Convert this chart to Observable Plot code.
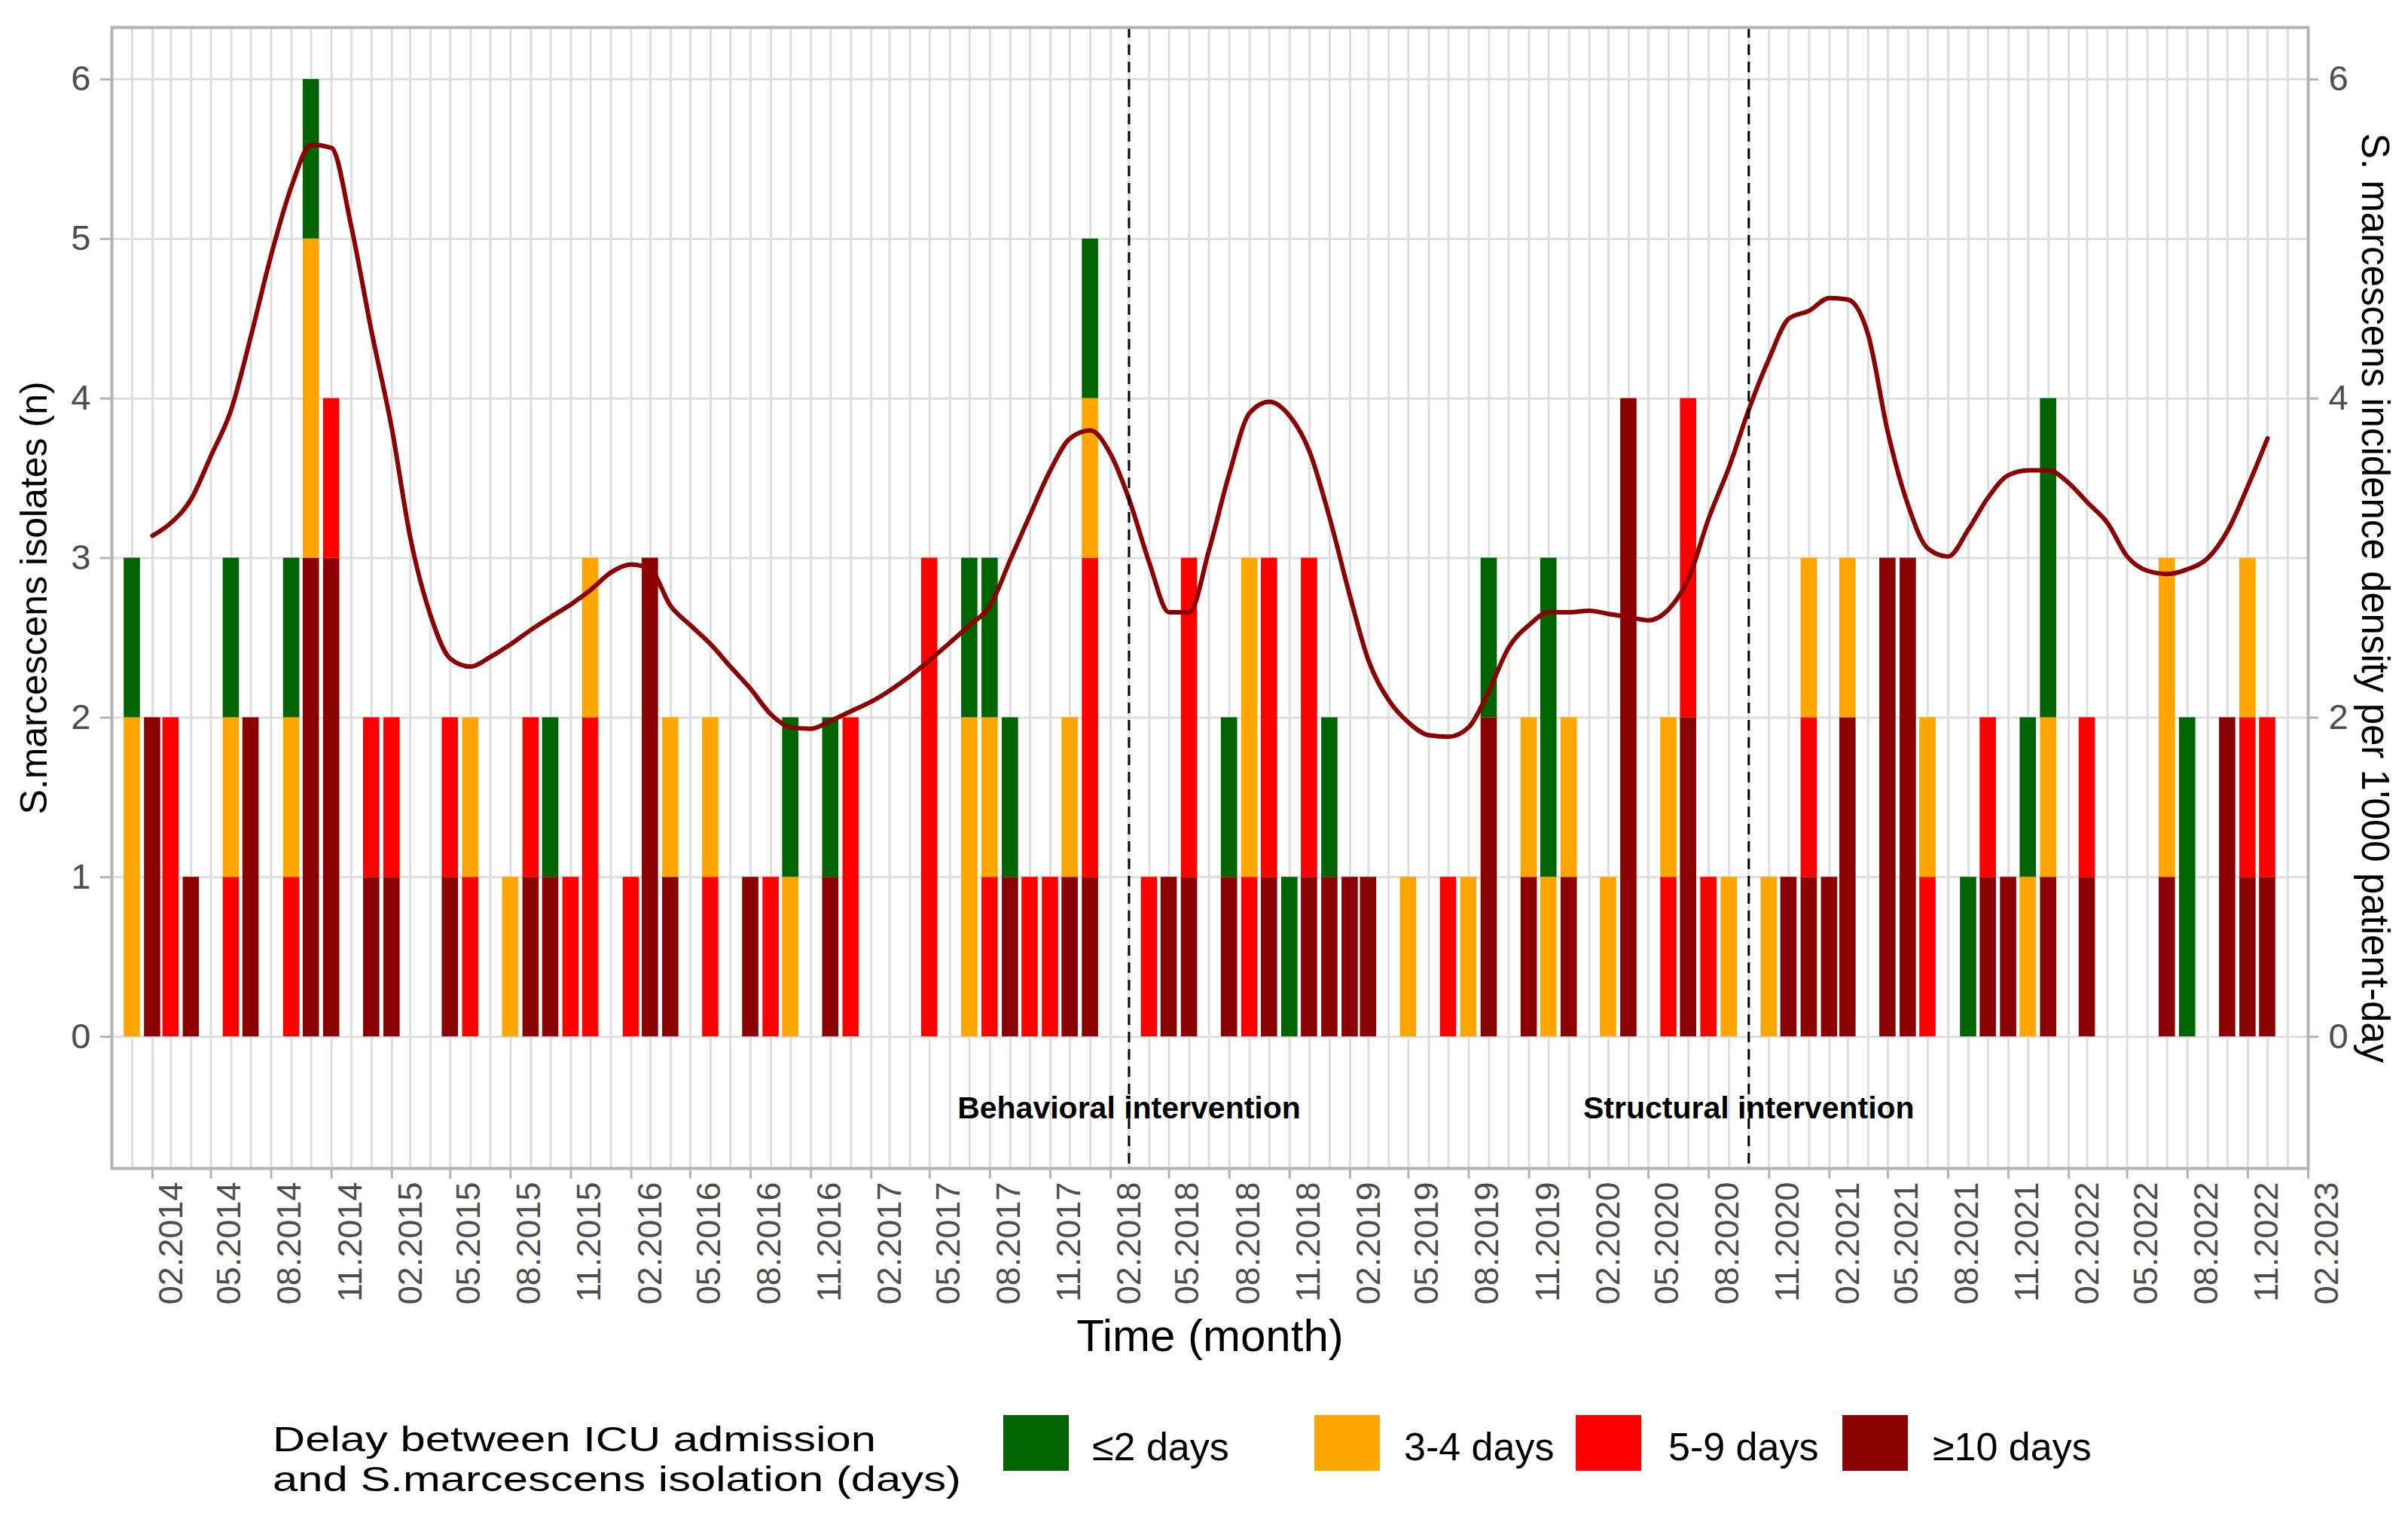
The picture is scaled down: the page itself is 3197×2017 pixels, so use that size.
<!DOCTYPE html>
<html>
<head>
<meta charset="utf-8">
<script src="https://cdn.jsdelivr.net/npm/d3@7"></script>
<script src="https://cdn.jsdelivr.net/npm/@observablehq/plot@0.6"></script>
<style>
html, body { margin: 0; padding: 0; background: #fff; overflow: hidden; }
#wrap { width: 3197px; height: 2017px; font-family: "Liberation Sans", Arial, sans-serif; }
#legend { position: relative; width: 3197px; height: 187px; }
.lg { position: absolute; white-space: nowrap; color: #000; }
.key { position: absolute; width: 87px; height: 74px; }
</style>
</head>
<body>
<div id="wrap"><div id="chart"></div><div id="legend"></div></div>
<script>
// ---- data (monthly, 01.2014 ... 12.2022; one row per year) ----
const categories = ["≤2 days", "3-4 days", "5-9 days", "≥10 days"];
const legendTitle = ["Delay between ICU admission", "and S.marcescens isolation (days)"];

const le2 = [
  1,0,0,0,0,1,0,0,1,1,0,0,
  0,0,0,0,0,0,0,0,0,1,0,0,
  0,0,0,0,0,0,0,0,0,1,0,1,
  0,0,0,0,0,0,1,1,1,0,0,0,
  1,0,0,0,0,0,0,1,0,0,1,0,
  1,0,0,0,0,0,0,0,1,0,0,2,
  0,0,0,0,0,0,0,0,0,0,0,0,
  0,0,0,0,0,0,0,0,1,0,0,1,
  2,0,0,0,0,0,0,2,0,0,0,0
];
const d34 = [
  2,0,0,0,0,1,0,0,1,2,0,0,
  0,0,0,0,0,1,0,1,0,0,0,1,
  0,0,0,1,0,1,0,0,0,1,0,0,
  0,0,0,0,0,0,2,1,0,0,0,1,
  1,0,0,0,0,0,0,0,2,0,0,0,
  0,0,0,0,1,0,0,1,0,0,1,1,
  1,0,1,0,0,1,0,0,1,0,1,0,
  1,0,1,0,0,0,1,0,0,0,0,1,
  1,0,0,0,0,0,2,0,0,0,1,0
];
const d59 = [
  0,0,2,0,0,1,0,0,1,0,1,0,
  1,1,0,0,1,1,0,0,1,0,1,2,
  0,1,0,0,0,1,0,0,1,0,0,0,
  2,0,0,0,3,0,0,1,0,1,1,0,
  2,0,0,1,0,2,0,0,1,2,0,2,
  0,0,0,0,0,0,1,0,0,0,0,0,
  0,0,0,0,0,1,2,1,0,0,0,0,
  1,0,0,0,0,0,1,0,0,1,0,0,
  0,0,1,0,0,0,0,0,0,0,1,1
];
const ge10 = [
  0,2,0,1,0,0,2,0,0,3,3,0,
  1,1,0,0,1,0,0,0,1,1,0,0,
  0,0,3,1,0,0,0,1,0,0,0,1,
  0,0,0,0,0,0,0,0,1,0,0,1,
  1,0,0,0,1,1,0,1,0,1,0,1,
  1,1,1,0,0,0,0,0,2,0,1,0,
  1,0,0,4,0,0,2,0,0,0,0,1,
  1,1,2,0,3,3,0,0,0,1,1,0,
  1,0,1,0,0,0,1,0,0,2,1,1
];
// incidence density per 1'000 patient-days (no value for 01.2014)
const density = [
  null,3.14,3.22,3.37,3.64,3.93,4.39,4.90,5.33,5.59,5.57,5.08,
  4.42,3.81,3.13,2.64,2.37,2.32,2.38,2.46,2.55,2.63,2.71,2.80,
  2.91,2.96,2.93,2.70,2.58,2.46,2.32,2.18,2.02,1.94,1.93,1.98,
  2.04,2.10,2.17,2.26,2.36,2.47,2.58,2.70,2.99,3.27,3.55,3.75,
  3.80,3.65,3.37,2.97,2.66,2.66,3.05,3.53,3.91,3.98,3.89,3.67,
  3.25,2.76,2.36,2.11,1.97,1.89,1.88,1.94,2.17,2.44,2.58,2.66,
  2.66,2.67,2.65,2.63,2.61,2.68,2.87,3.25,3.57,3.93,4.25,4.50,
  4.55,4.63,4.62,4.40,3.79,3.33,3.06,3.01,3.18,3.38,3.52,3.55,
  3.55,3.47,3.35,3.22,3.01,2.92,2.90,2.93,3.00,3.17,3.45,3.75
];
const xTicks = [
  "02.2014","05.2014","08.2014","11.2014",
  "02.2015","05.2015","08.2015","11.2015",
  "02.2016","05.2016","08.2016","11.2016",
  "02.2017","05.2017","08.2017","11.2017",
  "02.2018","05.2018","08.2018","11.2018",
  "02.2019","05.2019","08.2019","11.2019",
  "02.2020","05.2020","08.2020","11.2020",
  "02.2021","05.2021","08.2021","11.2021",
  "02.2022","05.2022","08.2022","11.2022",
  "02.2023"
];
const yTicksLeft = [0, 1, 2, 3, 4, 5, 6];
const yTicksRight = [0, 2, 4, 6];
const interventionDates = ["2018-03-01", "2020-10-01"];
const interventionLabels = ["Behavioral intervention", "Structural intervention"];
const interventionY = [-0.45, -0.45];

// ---- styles ----
const palette = ["#006400", "#FFA500", "#FF0000", "#8B0000"];
const FONT = "'Liberation Sans', Arial, sans-serif";

// ---- build tables ----
const months = d3.range(le2.length).map(i => new Date(Date.UTC(2014, i, 1)));
const seriesBottomUp = [["≥10 days", ge10], ["5-9 days", d59], ["3-4 days", d34], ["≤2 days", le2]];
const table = [];
months.forEach((m, i) => {
  seriesBottomUp.forEach(([cat, arr]) => { if (arr[i] > 0) table.push({date: m, cat, n: arr[i]}); });
});
const lineTable = months.map((m, i) => ({date: m, v: density[i]})).filter(d => d.v != null);
const parseTick = s => new Date(Date.UTC(+s.slice(3), +s.slice(0, 2) - 1, 1));
const xTickDates = xTicks.map(parseTick);
const tickLabel = new Map(xTickDates.map((d, i) => [+d, xTicks[i]]));
const gridMonths = d3.utcMonth.range(new Date(Date.UTC(2014, 0, 1)), new Date(Date.UTC(2023, 1, 2)));
const interventions = interventionDates.map((d, i) => ({date: new Date(d + "T00:00:00Z"), label: interventionLabels[i], y: interventionY[i]}));
const halfBar = 12.4 * 864e5;

const chart = Plot.plot({
  width: 3197,
  height: 1830,
  marginLeft: 148,
  marginRight: 133,
  marginTop: 36,
  marginBottom: 279,
  style: {fontFamily: FONT, background: "#fff", color: "#000", overflow: "visible"},
  x: {type: "utc", domain: [new Date(Date.UTC(2013, 11, 1)), new Date(Date.UTC(2023, 1, 1))]},
  y: {domain: [-0.825, 6.325]},
  color: {domain: categories, range: palette},
  marks: [
    Plot.ruleX(gridMonths, {stroke: "#DEDEDE", strokeWidth: 3}),
    Plot.ruleY(yTicksLeft, {stroke: "#DEDEDE", strokeWidth: 3}),
    Plot.rectY(table, {
      x1: d => new Date(+d.date - halfBar),
      x2: d => new Date(+d.date + halfBar),
      y: "n",
      fill: "cat"
    }),
    Plot.line(lineTable, {x: "date", y: "v", stroke: "#8B0000", strokeWidth: 6, curve: "monotone-x"}),
    Plot.ruleX(interventions, {x: "date", stroke: "#000", strokeWidth: 3, strokeDasharray: "14,9"}),
    Plot.text(interventions, {x: "date", y: "y", text: "label", fontWeight: "bold", fontSize: 41, fill: "#000"}),
    Plot.frame({stroke: "#B3B3B3", strokeWidth: 4}),
    // x axis ticks and labels
    Plot.axisX({ticks: xTickDates, tickFormat: () => "", tickSize: 14, stroke: "#B3B3B3", strokeWidth: 3, label: null}),
    Plot.axisX({ticks: xTickDates, tickFormat: d => tickLabel.get(+d), tickSize: 0, tickPadding: 18,
      tickRotate: -90, textAnchor: "end", fontSize: 45, fill: "#4D4D4D", dx: 25, label: null}),
    // y axes
    Plot.axisY({ticks: yTicksLeft, tickSize: 15, tickPadding: 13, fontSize: 47, stroke: "#B3B3B3", strokeWidth: 3, fill: "#4D4D4D", label: null}),
    Plot.axisY({anchor: "right", ticks: yTicksRight, tickSize: 13, tickPadding: 14, fontSize: 47, stroke: "#B3B3B3", strokeWidth: 3, fill: "#4D4D4D", label: null}),
    // axis titles
    Plot.text(["Time (month)"], {text: d => d, frameAnchor: "bottom", textAnchor: "middle", lineAnchor: "middle", dy: 223, fontSize: 60, fill: "#000"}),
    Plot.text(["S.marcescens isolates (n)"], {text: d => d, frameAnchor: "left", textAnchor: "middle", lineAnchor: "middle", rotate: -90, dx: -103, fontSize: 50, fill: "#000"}),
    Plot.text(["S. marcescens incidence density per 1'000 patient-day"], {text: d => d, frameAnchor: "right", textAnchor: "middle", lineAnchor: "middle", rotate: 90, dx: 88, fontSize: 51, fill: "#000"})
  ]
});
document.getElementById("chart").appendChild(chart);

// ---- legend (HTML, below the SVG) ----
const legend = document.getElementById("legend");
const top0 = 1830;
function addDiv(cls, style, lines) {
  const el = document.createElement("div");
  el.className = cls;
  Object.assign(el.style, style);
  if (lines != null) {
    [].concat(lines).forEach((t, i) => {
      if (i > 0) el.appendChild(document.createElement("br"));
      el.appendChild(document.createTextNode(t));
    });
  }
  legend.appendChild(el);
}
addDiv("lg", {left: "362px", top: (1911 - top0 - 26.5) + "px", fontSize: "46px", lineHeight: "53px",
  transform: "scaleX(1.3)", transformOrigin: "left top"}, legendTitle);
const keyLeft = [1332, 1745, 2092, 2446];
const labelLeft = [1450, 1864, 2215, 2566];
categories.forEach((c, i) => {
  addDiv("key", {left: keyLeft[i] + "px", top: (1879 - top0) + "px", background: palette[i]});
  addDiv("lg", {left: labelLeft[i] + "px", top: (1921 - top0 - 26) + "px", fontSize: "52px", lineHeight: "52px"}, c);
});
</script>
</body>
</html>
